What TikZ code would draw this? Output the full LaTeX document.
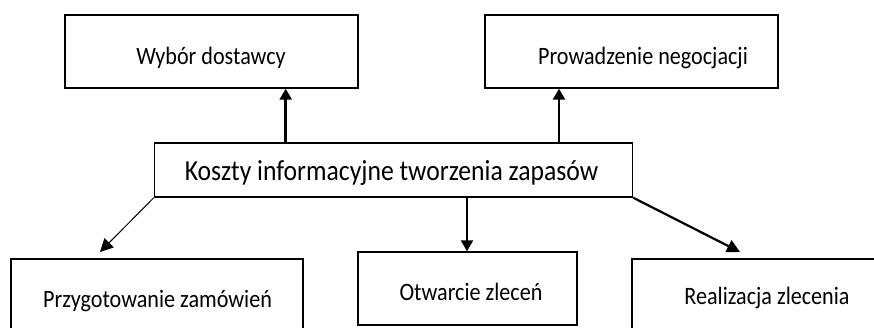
\documentclass[tikz,border=0pt]{standalone}
\usepackage{fontspec}
\setmainfont{Carlito}
\usetikzlibrary{arrows.meta}
\begin{document}
\begin{tikzpicture}[x=1pt,y=-1pt,
  box/.style={draw,line width=1.4pt,inner sep=0pt},
  lbl/.style={anchor=base,inner sep=0pt,font=\fontsize{25}{28}\selectfont},
  big/.style={anchor=base,inner sep=0pt,font=\fontsize{29}{32}\selectfont},
  tip/.style={-{Triangle[length=11pt,width=12pt]}},
]
\newcommand\narrow[1]{\scalebox{0.885}[1]{#1}}
\useasboundingbox (0,0) rectangle (874,327);
\clip (0,0) rectangle (874,327);
% boxes
\node[box,minimum width=293pt,minimum height=73pt] (wyb) at (211.5,51.5) {};
\node[box,minimum width=293pt,minimum height=73pt] (pro) at (631.5,51.5) {};
\node[box,minimum width=478pt,minimum height=54pt] (kos) at (393.5,170) {};
\node[box,minimum width=292pt,minimum height=100pt] (prz) at (157,309) {};
\node[box,minimum width=219pt,minimum height=73pt] (otw) at (467.5,288.5) {};
\node[box,minimum width=300pt,minimum height=100pt] (rea) at (782,309) {};
% labels
\node[lbl] (t1) at (211,64) {\narrow{Wybór dostawcy}};
\node[lbl] (t2) at (643,64) {\narrow{Prowadzenie negocjacji}};
\node[big] (t3) at (391.5,180) {\narrow{Koszty informacyjne tworzenia zapasów}};
\node[lbl] (t4) at (157.5,307) {\narrow{Przygotowanie zamówień}};
\node[lbl] (t5) at (471,300.5) {\narrow{Otwarcie zleceń}};
\node[lbl] (t6) at (767,304) {\narrow{Realizacja zlecenia}};
% anchor points of the connectors
\coordinate (xl) at (285.7,0);
\coordinate (xr) at (559,0);
\coordinate (xm) at (467,0);
\coordinate (pend) at (100,252);
\coordinate (rend) at (740,252);
% connectors
\draw[tip,line width=2.6pt] (kos.north -| xl) -- (wyb.south -| xl);
\draw[tip,line width=2.6pt] (kos.north -| xr) -- (pro.south -| xr);
\draw[-{Triangle[length=13pt,width=13pt]},line width=1pt] (kos.south west) -- (pend);
\draw[tip,line width=2.2pt] (kos.south -| xm) -- (otw.north -| xm);
\draw[-{Triangle[length=13pt,width=13pt]},line width=2.2pt] (kos.south east) -- (rend);
\end{tikzpicture}
\end{document}
